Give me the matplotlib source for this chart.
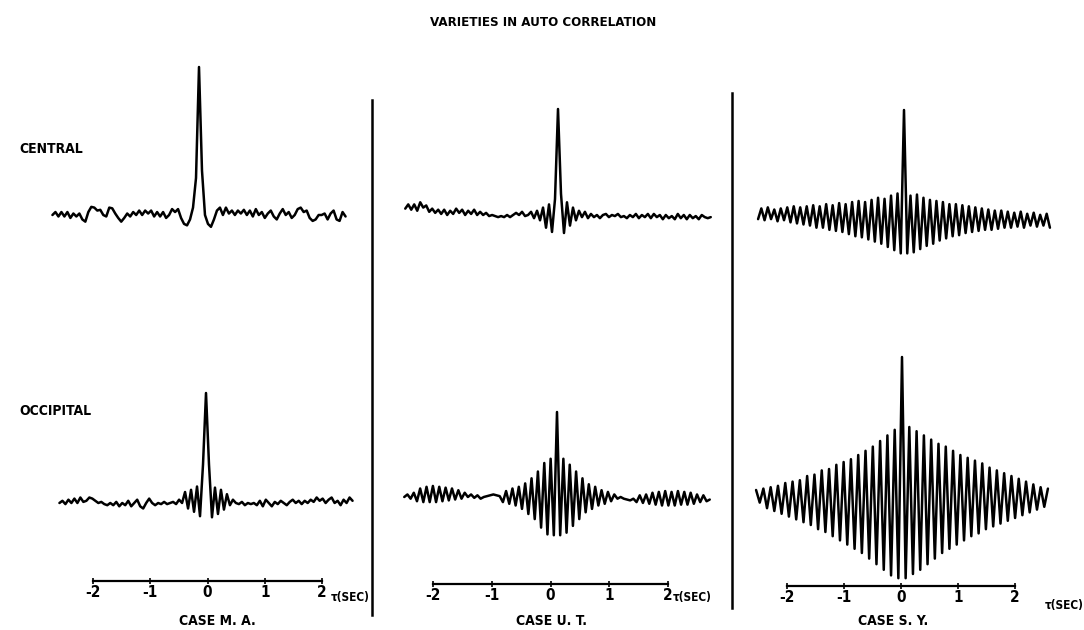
import numpy as np
import matplotlib
matplotlib.use("Agg")
import matplotlib.pyplot as plt
from matplotlib.lines import Line2D

plt.rcParams['font.family'] = ['DejaVu Sans']
plt.rcParams['font.stretch'] = 'condensed'

# ---------------- data (correlation, normalised so that R(0) = 1) ----------------
TITLE = "VARIETIES IN AUTO CORRELATION"
ROWS = ["CENTRAL", "OCCIPITAL"]
CASES = ["CASE M. A.", "CASE U. T.", "CASE S. Y."]
TICKS = [-2, -1, 0, 1, 2]
TICK_LABELS = ["-2", "-1", "0", "1", "2"]
TAU_LABEL = "τ(SEC)"
MAX_LAG = [2.56, 2.6, 2.56]          # seconds shown on each side of zero

MA_CENTRAL = [0.0, 0.02, -0.01, 0.02, -0.01, 0.02, -0.02, 0.01, -0.01, 0.01, -0.03,
              -0.045, 0.02, 0.055, 0.05, 0.03, 0.035, 0.0, -0.01,
              0.05, 0.045, 0.01, -0.02, -0.045, -0.02, 0.01, -0.01, 0.02, 0.0, 0.03,
              0.0, 0.03, 0.01, 0.03, -0.01, 0.02, -0.01, 0.02, -0.02, 0.0,
              0.04, 0.02, 0.04, -0.02, -0.06, -0.07, -0.03, 0.05, 0.25,
              1.0,
              0.3, 0.0, -0.06, -0.08, -0.03, 0.03, 0.05, 0.0, 0.05, 0.01,
              0.03, 0.0, 0.03, 0.01, 0.035, 0.0, 0.03, -0.01, 0.04, 0.0,
              0.02, -0.02, 0.01, 0.03, -0.01, -0.03, 0.01, 0.04, 0.0, 0.02,
              -0.02, 0.0, 0.04, 0.05, 0.02, 0.03, -0.02, -0.04, -0.03, 0.0,
              0.0, 0.01, -0.03, 0.01, 0.03, -0.03, -0.04, 0.02, -0.01]

MA_OCCIPITAL = [0.0, 0.02, -0.01, 0.03, 0.0, 0.04, 0.0, 0.05, 0.01, 0.02, 0.05, 0.04, 0.02, 0.0, 0.01, -0.01,
                -0.02, 0.0, -0.02, 0.01, -0.03, 0.0, -0.02, 0.02, -0.03, 0.0, 0.03, -0.03, -0.05, 0.0, 0.04,
                0.0, -0.02, 0.0, -0.01, 0.01, -0.01, 0.0, 0.01, -0.01, 0.03, 0.0,
                0.1, -0.05, 0.12, -0.08, 0.15, -0.12, 0.35,
                1.0,
                0.35, -0.13, 0.14, -0.1, 0.12, -0.06, 0.08,
                -0.02, 0.03, 0.0, -0.01, 0.01, -0.02, 0.0, -0.01, 0.0, -0.02,
                0.02, -0.03, 0.03, 0.0, -0.03, 0.01, -0.01, 0.02, 0.0, -0.02,
                0.01, 0.03, 0.0, 0.02, -0.01, 0.02, 0.0, 0.03, 0.01, 0.05,
                0.02, 0.04, 0.0, 0.03, 0.05, 0.0, 0.02, -0.02, 0.03, 0.0,
                0.05, 0.02]

UT_CENTRAL = [0.06, 0.1, 0.05, 0.1, 0.04, 0.12, 0.07, 0.09, 0.03,
              0.06, 0.02, 0.05, 0.01, 0.05, 0.0, 0.04, 0.01, 0.06, 0.02, 0.05, 0.0,
              0.04, 0.01, 0.05, 0.0, 0.03, 0.0, 0.02, -0.01, 0.0, -0.01,
              -0.02, -0.01, -0.02, 0.0, -0.02, 0.0, 0.02, 0.0, 0.03, -0.01,
              0.0, 0.03, -0.03, 0.04, -0.05, 0.07, -0.12, 0.1, -0.16, 0.15,
              1.0,
              0.2, -0.17, 0.12, -0.1, 0.07, -0.05, 0.04, -0.02, 0.03, -0.03,
              0.01, -0.02, 0.0, -0.03, 0.0, 0.01, -0.02, 0.0, -0.01, 0.01,
              -0.02, -0.01, -0.03, 0.0, -0.02, 0.01, -0.03, 0.0, -0.02, 0.01,
              -0.03, 0.01, -0.02, 0.0, -0.04, 0.0, -0.03, -0.01, -0.04, 0.01,
              -0.03, 0.0, -0.04, 0.0, -0.03, -0.01, -0.04, 0.0, -0.02, -0.03,
              -0.02]

UT_OCCIPITAL = [0.0, 0.03, -0.02, 0.05,
                -0.05, 0.1, -0.06, 0.12, -0.06, 0.13, -0.06, 0.12, -0.05, 0.11, -0.04, 0.1, -0.03, 0.08, -0.02, 0.05,
                0.0, 0.03, -0.01, 0.02, -0.02, 0.0, 0.01, 0.02, 0.03, 0.02, 0.01,
                -0.06, 0.07, -0.08, 0.1, -0.1, 0.12, -0.14, 0.16,
                -0.2, 0.22, -0.26, 0.3, -0.36, 0.4, -0.44, 0.45, -0.45,
                1.0,
                -0.45, 0.45, -0.42, 0.38, -0.34, 0.3, -0.26, 0.22, -0.18,
                0.15, -0.14, 0.12, -0.1, 0.08, -0.08, 0.06, -0.05,
                0.03, -0.02, 0.0, -0.02, -0.03, -0.04, -0.02, -0.06, 0.02, -0.07, 0.03,
                -0.08, 0.05, -0.09, 0.06, -0.1, 0.07, -0.1, 0.06, -0.1, 0.07,
                -0.09, 0.06, -0.09, 0.05, -0.08, 0.03, -0.06, 0.02, -0.05, -0.03]

# S.Y.: regular alpha waves, read as successive crests and troughs
SY_C_TROUGHS = [-0.02, -0.03, -0.02, -0.04, -0.03, -0.05, -0.06, -0.07, -0.08, -0.1,
                -0.1, -0.12, -0.13, -0.14, -0.16, -0.18, -0.19, -0.21, -0.23, -0.25,
                -0.28, -0.31, -0.34,
                -0.34, -0.33, -0.3, -0.27, -0.25, -0.22, -0.2, -0.18, -0.17, -0.15,
                -0.14, -0.13, -0.12, -0.12, -0.11, -0.1, -0.1, -0.09, -0.1, -0.08,
                -0.09, -0.08, -0.1]
SY_C_CRESTS = [0.08, 0.09, 0.07, 0.08, 0.09, 0.1, 0.09, 0.1, 0.11, 0.1,
               0.12, 0.11, 0.13, 0.12, 0.14, 0.15, 0.14, 0.16, 0.18, 0.17,
               0.2, 0.22,
               1.0,
               0.2, 0.21, 0.18, 0.16, 0.15, 0.14, 0.12, 0.12, 0.11, 0.1,
               0.09, 0.08, 0.07, 0.06, 0.06, 0.05, 0.04, 0.05, 0.03, 0.04,
               0.02, 0.03]

SY_O_CRESTS = [0.05, 0.06, 0.07, 0.08, 0.1, 0.11, 0.12, 0.15, 0.16, 0.19,
               0.2, 0.23, 0.25, 0.27, 0.3, 0.33, 0.36, 0.4, 0.44, 0.48,
               1.0,
               0.5, 0.47, 0.44, 0.41, 0.38, 0.36, 0.33, 0.3, 0.28, 0.26,
               0.24, 0.21, 0.19, 0.17, 0.15, 0.13, 0.11, 0.09, 0.07, 0.06]
SY_O_TROUGHS = [-0.04, -0.08, -0.1, -0.12, -0.14, -0.16, -0.18, -0.2, -0.23, -0.25,
                -0.28, -0.31, -0.34, -0.37, -0.4, -0.44, -0.48, -0.52, -0.56, -0.58,
                -0.58, -0.55, -0.52, -0.48, -0.44, -0.4, -0.37, -0.34, -0.31, -0.28,
                -0.26, -0.23, -0.21, -0.19, -0.17, -0.15, -0.13, -0.11, -0.09, -0.07]


def interleave(even, odd):
    out = np.empty(len(even) + len(odd))
    out[0::2] = even
    out[1::2] = odd
    return out


SY_CENTRAL = interleave(SY_C_TROUGHS, SY_C_CRESTS)
SY_OCCIPITAL = interleave(SY_O_CRESTS, SY_O_TROUGHS)

TRACES = [[MA_CENTRAL, MA_OCCIPITAL],
          [UT_CENTRAL, UT_OCCIPITAL],
          [SY_CENTRAL, SY_OCCIPITAL]]

# ---------------- layout (pixels) ----------------
W, H = 1084, 630
fig = plt.figure(figsize=(W / 100, H / 100), dpi=100)
fig.patch.set_facecolor("white")

# per column: x of tau=-2 and tau=+2 on the scale, y of the scale line
SCALE = [(93, 322, 581), (433, 668, 584), (787, 1015, 586)]
# per column: x of zero-lag peak for the two rows
PEAK_X = [(199, 206), (558, 557), (904, 902)]
# per column, per row: (y of baseline, y of the R(0) peak)
ROW_Y = [[(215, 67), (503, 393)],
         [(215, 109), (497, 412)],
         [(217, 110), (497, 357)]]
CASE_POS = [(217, 621), (552, 621), (893, 621)]
TAU_POS = [(331, 597), (673, 598), (1045, 606)]

TXT = dict(color="black", fontweight="bold", fontstretch="condensed")


def px_axes(x0, y_top, w, h):
    return fig.add_axes([x0 / W, 1 - (y_top + h) / H, w / W, h / H])


for c in range(3):
    x_m2, x_p2, y_sc = SCALE[c]
    pps = (x_p2 - x_m2) / 4.0
    L = MAX_LAG[c]
    for r in range(2):
        vals = np.asarray(TRACES[c][r], dtype=float)
        lags = np.linspace(-L, L, len(vals))
        base, top = ROW_Y[c][r]
        ax = px_axes(PEAK_X[c][r] - L * pps, top, 2 * L * pps, base - top)
        ax.plot(lags, vals, color="black", lw=1.8, clip_on=False,
                solid_joinstyle="round", solid_capstyle="round")
        ax.set_xlim(-L, L)
        ax.set_ylim(0, 1)
        ax.axis("off")

    # tau scale
    sax = px_axes(x_m2 - 2, y_sc - 20, (x_p2 - x_m2) + 4, 20)
    sax.set_xlim(-2 - 2 / pps, 2 + 2 / pps)
    sax.set_ylim(0, 1)
    sax.patch.set_visible(False)
    for s in ("left", "right", "top"):
        sax.spines[s].set_visible(False)
    sax.spines["bottom"].set_linewidth(1.6)
    sax.spines["bottom"].set_bounds(-2, 2)
    sax.set_yticks([])
    sax.set_xticks(TICKS)
    sax.set_xticklabels(TICK_LABELS)
    sax.tick_params(axis="x", direction="inout", length=4, width=1.2, pad=1,
                    labelsize=11)
    for lab in sax.get_xticklabels():
        lab.set_fontweight("bold")
    fig.text(TAU_POS[c][0] / W, 1 - TAU_POS[c][1] / H, TAU_LABEL,
             ha="left", va="center", fontsize=8.5, **TXT)
    fig.text(CASE_POS[c][0] / W, 1 - CASE_POS[c][1] / H, CASES[c],
             ha="center", va="center", fontsize=10, **TXT)

# separators
fig.add_artist(Line2D([372 / W, 372 / W], [1 - 100 / H, 1 - 615 / H], color="black", lw=1.8))
fig.add_artist(Line2D([732 / W, 732 / W], [1 - 93 / H, 1 - 608 / H], color="black", lw=1.8))

fig.text(543 / W, 1 - 23 / H, TITLE, ha="center", va="center", fontsize=9.5, **TXT)
fig.text(19 / W, 1 - 149 / H, ROWS[0], ha="left", va="center", fontsize=10, **TXT)
fig.text(19 / W, 1 - 411 / H, ROWS[1], ha="left", va="center", fontsize=10, **TXT)

fig.savefig("out.png", dpi=100, facecolor="white")
